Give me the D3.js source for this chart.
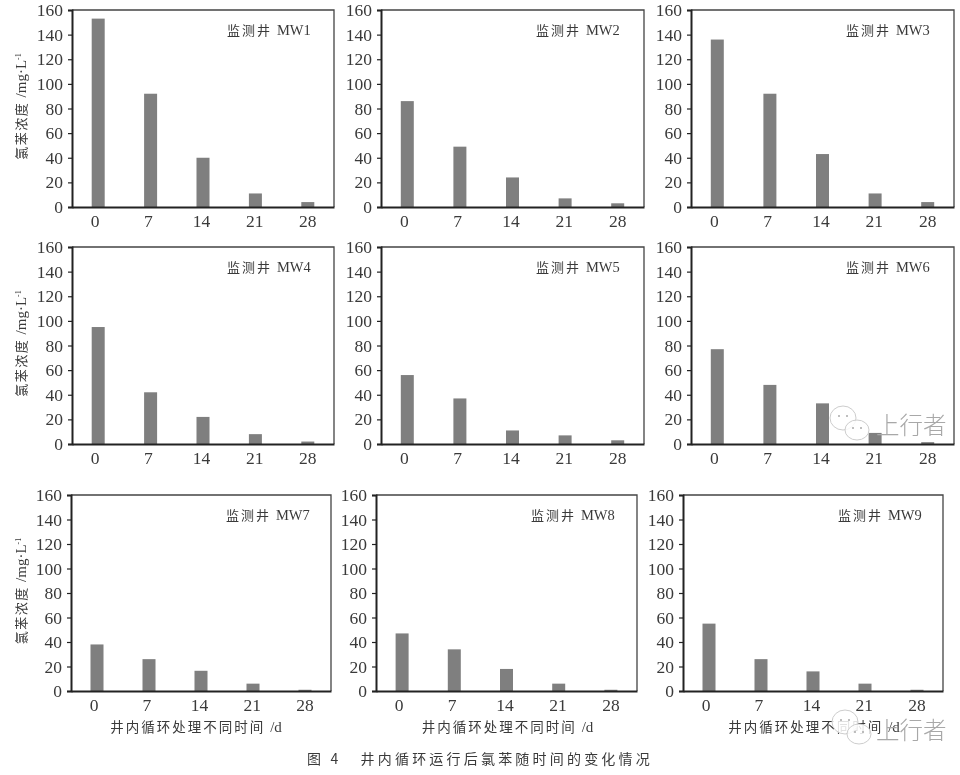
<!DOCTYPE html>
<html>
<head>
<meta charset="utf-8">
<script src="https://d3js.org/d3.v7.min.js"></script>
<style>
  html, body { margin: 0; padding: 0; background: #fff; }
  svg { display: block; filter: blur(0.45px); }
  .num { font-family: "Liberation Serif", serif; font-size: 17.5px; fill: #3a3a3a; }
  .cjk { font-family: "Noto Sans CJK SC", sans-serif; fill: #3a3a3a; }
  .latin { font-family: "Liberation Serif", serif; }
</style>
</head>
<body>
<div id="chart"></div>
<script>
// Days after start, shared by all wells
const days = ["0", "7", "14", "21", "28"];
const yTicks = [0, 20, 40, 60, 80, 100, 120, 140, 160];

// Concentration
const mw1 = [153, 92, 40, 11, 4];
const mw2 = [86, 49, 24, 7, 3];
const mw3 = [136, 92, 43, 11, 4];
const mw4 = [95, 42, 22, 8, 2];
const mw5 = [56, 37, 11, 7, 3];
const mw6 = [77, 48, 33, 9, 1.5];
const mw7 = [38, 26, 16.5, 6, 1];
const mw8 = [47, 34, 18, 6, 1];
const mw9 = [55, 26, 16, 6, 1];

const wells = ["MW1", "MW2", "MW3", "MW4", "MW5", "MW6", "MW7", "MW8", "MW9"];
const series = [mw1, mw2, mw3, mw4, mw5, mw6, mw7, mw8, mw9];

const caption = "图 4   井内循环运行后氯苯随时间的变化情况";
const watermark = "上行者";

// Panel frames, same order as wells
const frames = [
  { left: 72, right: 334, top: 10, bottom: 207 },
  { left: 381, right: 644, top: 10, bottom: 207 },
  { left: 691, right: 954, top: 10, bottom: 207 },
  { left: 72, right: 334, top: 247, bottom: 444 },
  { left: 381, right: 644, top: 247, bottom: 444 },
  { left: 691, right: 954, top: 247, bottom: 444 },
  { left: 71, right: 331, top: 495, bottom: 691 },
  { left: 376, right: 637, top: 495, bottom: 691 },
  { left: 683, right: 943, top: 495, bottom: 691 }
];

const svg = d3.select("#chart").append("svg")
  .attr("width", 960)
  .attr("height", 775);

series.forEach((values, i) => {
  const f = frames[i];
  const x = d3.scaleBand().domain(days).range([f.left, f.right]);
  const y = d3.scaleLinear().domain([0, 160]).range([f.bottom, f.top]);
  const g = svg.append("g");

  // Bars first so the axis line sits on top
  g.selectAll("rect.bar")
    .data(values)
    .join("rect")
    .attr("class", "bar")
    .attr("x", (d, j) => x(days[j]) + x.bandwidth() / 2 - 6.5)
    .attr("y", d => y(d))
    .attr("width", 13)
    .attr("height", d => y(0) - y(d))
    .attr("fill", "#7f7f7f");

  // Top and right frame lines
  g.append("path")
    .attr("d", `M${f.left},${f.top}H${f.right}V${f.bottom}`)
    .attr("fill", "none")
    .attr("stroke", "#444")
    .attr("stroke-width", 1.3);

  const yAxis = g.append("g")
    .attr("transform", `translate(${f.left},0)`)
    .call(d3.axisLeft(y).tickValues(yTicks).tickSize(4).tickPadding(5));
  yAxis.select(".domain").attr("stroke", "#222").attr("stroke-width", 2);
  yAxis.selectAll("line").attr("stroke", "#222").attr("stroke-width", 1.2);
  yAxis.selectAll("text").attr("class", "num").attr("fill", null);

  const xAxis = g.append("g")
    .attr("transform", `translate(0,${f.bottom})`)
    .call(d3.axisBottom(x).tickSize(0).tickPadding(8));
  xAxis.select(".domain").attr("stroke", "#222").attr("stroke-width", 2);
  // the labels drift left of their bars in the original
  xAxis.selectAll("text")
    .attr("class", "num")
    .attr("fill", null)
    .attr("dx", (d, j) => (j - 4) * 0.75);

  // Well name inside the panel
  g.append("text")
    .attr("class", "cjk")
    .attr("x", f.left + 155)
    .attr("y", f.top + 25)
    .attr("font-size", 13)
    .attr("letter-spacing", 2)
    .text("监测井 ")
    .append("tspan")
    .attr("class", "latin")
    .attr("font-size", 14.5)
    .attr("letter-spacing", 0)
    .text(wells[i]);

  // Y title only on the first column
  if (i % 3 === 0) {
    const cy = (f.top + f.bottom) / 2 - 2;
    const t = g.append("text")
      .attr("class", "cjk")
      .attr("transform", `translate(26,${cy}) rotate(-90)`)
      .attr("text-anchor", "middle")
      .attr("font-size", 13)
      .attr("letter-spacing", 1.5)
      .text("氯苯浓度 ");
    t.append("tspan")
      .attr("class", "latin")
      .attr("font-size", 15)
      .attr("letter-spacing", 0)
      .text("/mg·L");
    t.append("tspan")
      .attr("class", "latin")
      .attr("font-size", 8)
      .attr("letter-spacing", 0)
      .attr("dy", -5)
      .text("-1");
  }

  // X title only on the bottom row
  if (i >= 6) {
    g.append("text")
      .attr("class", "cjk")
      .attr("x", (f.left + f.right) / 2 + (i === 6 ? -5 : 1))
      .attr("y", f.bottom + 41)
      .attr("text-anchor", "middle")
      .attr("font-size", 13.5)
      .attr("letter-spacing", 2)
      .text("井内循环处理不同时间 ")
      .append("tspan")
      .attr("class", "latin")
      .attr("font-size", 15)
      .attr("letter-spacing", 0)
      .text("/d");
  }
});

svg.append("text")
  .attr("class", "cjk")
  .attr("x", 480)
  .attr("y", 764)
  .attr("text-anchor", "middle")
  .attr("font-size", 14)
  .attr("letter-spacing", 3.2)
  .attr("xml:space", "preserve")
  .style("white-space", "pre")
  .text(caption);

// WeChat style watermark, twice
function drawWatermark(px, py, textX, textY) {
  const w = svg.append("g").attr("transform", `translate(${px},${py})`);
  [[0, 0, 13, 12], [14, 12, 12, 10]].forEach(b => {
    w.append("ellipse")
      .attr("cx", b[0]).attr("cy", b[1])
      .attr("rx", b[2]).attr("ry", b[3])
      .attr("fill", "#fff").attr("fill-opacity", 0.85)
      .attr("stroke", "#ccc").attr("stroke-width", 1);
    [-4, 4].forEach(dx => {
      w.append("circle")
        .attr("cx", b[0] + dx).attr("cy", b[1] - 2).attr("r", 1)
        .attr("fill", "#aaa");
    });
  });
  w.append("text")
    .attr("class", "cjk")
    .attr("x", textX)
    .attr("y", textY)
    .attr("font-size", 23.5)
    .style("fill", "#a8a8a8")
    .style("font-weight", 300)
    .text(watermark);
}
drawWatermark(843, 418, 33, 16);
drawWatermark(845, 722, 31, 17);
</script>
</body>
</html>
